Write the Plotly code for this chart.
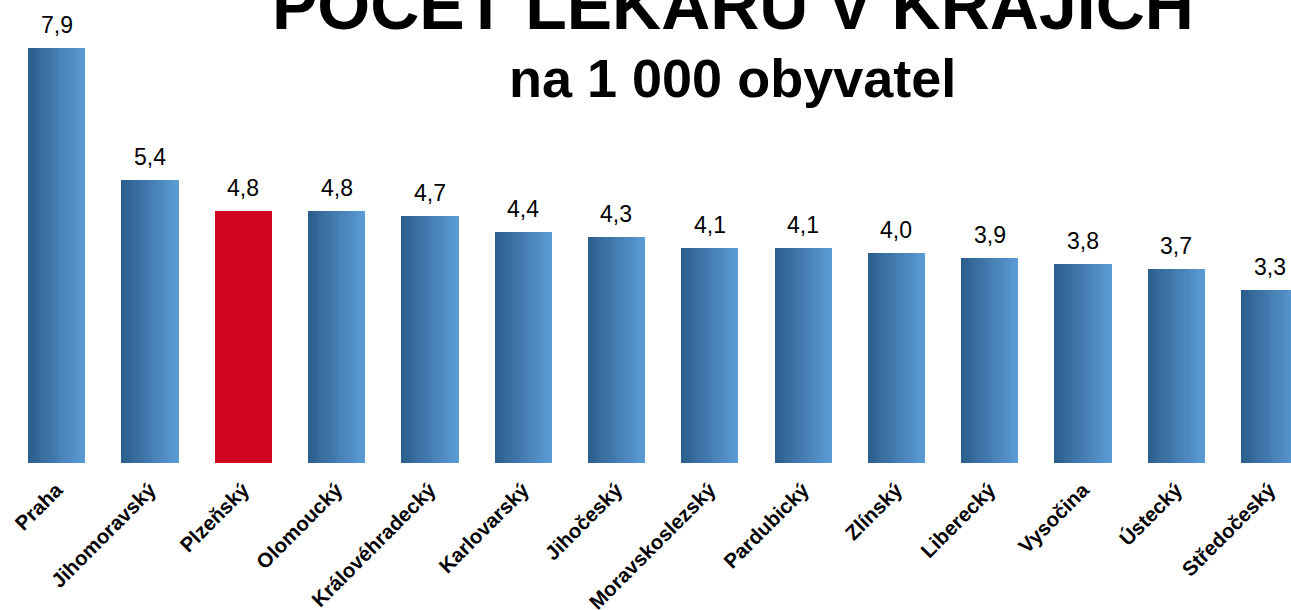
import plotly.graph_objects as go

categories = ["Praha", "Jihomoravský", "Plzeňský", "Olomoucký", "Královéhradecký",
              "Karlovarský", "Jihočeský", "Moravskoslezský", "Pardubický", "Zlínský",
              "Liberecký", "Vysočina", "Ústecký", "Středočeský"]
values = [7.9, 5.4, 4.8, 4.8, 4.7, 4.4, 4.3, 4.1, 4.1, 4.0, 3.9, 3.8, 3.7, 3.3]
highlight = "Plzeňský"

title_text = "POČET LÉKAŘŮ V KRAJÍCH"
subtitle_text = "na 1 000 obyvatel"

FONT = "Liberation Sans, Arial, sans-serif"
dark = (44, 94, 142)
light = (91, 155, 212)
red = "#d0061f"

W, H = 1291, 610
PLOT_H = 463
bar_w = 0.61
n_strips = 30
fig = go.Figure()
for i in range(n_strips):
    t = i / (n_strips - 1)
    c = tuple(round(dark[k] + (light[k] - dark[k]) * t) for k in range(3))
    col = "rgb(%d,%d,%d)" % c
    colors = [red if cat == highlight else col for cat in categories]
    fig.add_trace(go.Bar(
        x=categories, y=values,
        width=bar_w / n_strips * 1.15,
        offset=-bar_w / 2 + i * bar_w / n_strips,
        marker=dict(color=colors, line=dict(width=0)),
        hoverinfo="skip", showlegend=False,
    ))

for cat, v in zip(categories, values):
    fig.add_annotation(x=cat, y=v, xref="x", yref="y",
                       text=("%.1f" % v).replace(".", ","),
                       showarrow=False, yanchor="bottom", yshift=8,
                       font=dict(family=FONT, size=23, color="black"))

fig.add_annotation(x=(732.5 - 10) / 1281, y=(PLOT_H - 45) / PLOT_H, xref="paper", yref="paper",
                   text="<b>%s</b>" % title_text, showarrow=False,
                   xanchor="center", yanchor="bottom",
                   font=dict(family=FONT, size=68, color="black"))
fig.add_annotation(x=(732.5 - 10) / 1281, y=(PLOT_H - 110) / PLOT_H, xref="paper", yref="paper",
                   text="<b>%s</b>" % subtitle_text, showarrow=False,
                   xanchor="center", yanchor="bottom",
                   font=dict(family=FONT, size=54, color="black"))

fig.update_layout(
    width=W, height=H,
    margin=dict(l=10, r=0, t=0, b=H - PLOT_H, autoexpand=False),
    paper_bgcolor="white", plot_bgcolor="white",
    barmode="overlay", bargap=0,
    separators=", ",
    xaxis=dict(range=[-0.5, -0.5 + 1281 / 93.3], showgrid=False, zeroline=False,
               showline=False, ticks="", tickangle=-45, ticklabelstandoff=10,
               tickfont=dict(family=FONT, size=20.5, color="black", weight="bold")),
    yaxis=dict(range=[0, PLOT_H / 52.5], showgrid=False, zeroline=False,
               showline=False, showticklabels=False, ticks=""),
)

fig.write_html("out.html",
               config={"displayModeBar": False},
               post_script="document.body.style.margin='0';"
                           "document.body.style.overflow='hidden';")
